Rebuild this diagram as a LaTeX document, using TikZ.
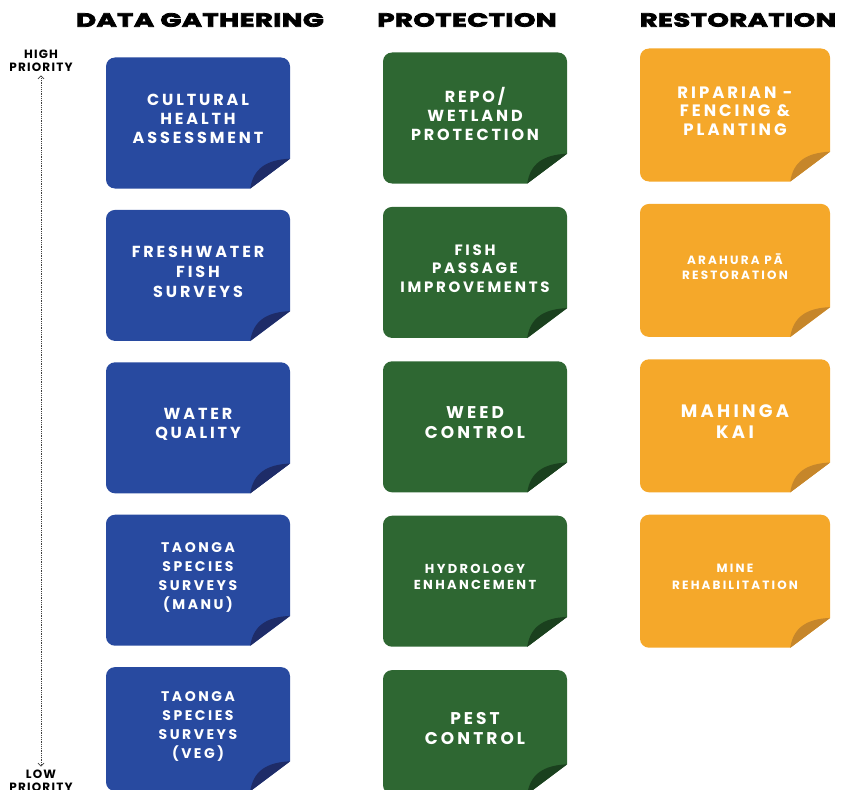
\documentclass[tikz,border=0pt]{standalone}
\usepackage{fontspec}
\setmainfont{Poppins}
\newfontfamily\headfont{Poppins}[BoldFeatures={FakeBold=4,FakeStretch=1.45,LetterSpace=2}]
\usetikzlibrary{positioning,arrows.meta,calc}

\definecolor{dgblue}{RGB}{40,74,160}
\definecolor{dgflap}{RGB}{30,44,104}
\definecolor{prgreen}{RGB}{46,103,50}
\definecolor{prflap}{RGB}{26,64,30}
\definecolor{rsorange}{RGB}{245,168,42}
\definecolor{rsflap}{RGB}{198,134,42}

\tikzset{
  card/.style={rectangle, fill=#1, rounded corners=9pt, minimum width=184pt, minimum height=131pt,
    inner sep=0pt, align=center, text=white, text depth=8pt},
  fs/.style 2 args={font=\bfseries\fontsize{#1}{#2}\selectfont\addfontfeatures{LetterSpace=18}},
  head/.style={font=\headfont\bfseries\fontsize{19}{22}\selectfont},
  prio/.style={align=center, font=\bfseries\fontsize{12}{13}\selectfont\addfontfeatures{LetterSpace=10}}
}

% page curl on the lower right corner of a card
\newcommand{\fold}[2]{%
  \fill[white] ($(#1.south east)+(0,30)$) -- ($(#1.south east)+(-40,0)$) -- ++(0,-2)
    -- ($(#1.south east)+(2,-2)$) -- ($(#1.south east)+(2,30)$) -- cycle;
  \fill[#2] ($(#1.south east)+(0,30)$) -- ($(#1.south east)+(-40,0)$)
    .. controls +(3,20) and +(-24,-1) .. ($(#1.south east)+(0,30)$);
}

\begin{document}
\begin{tikzpicture}[x=1pt, y=1pt]
    \useasboundingbox (0,0) rectangle (845,-789);

    \node (hdg) [head] at (200,-20) {DATA GATHERING};
    \node (hpr) [head] at (467,-20) {PROTECTION};
    \node (hrs) [head] at (738,-20) {RESTORATION};

    % data gathering
    \node (dg1) [card=dgblue, fs={16}{19}] at (198,-123) {CULTURAL\\HEALTH\\ASSESSMENT};
    \node (dg2) [card=dgblue, fs={16}{20}, below=21pt of dg1] {FRESHWATER\\FISH\\SURVEYS};
    \node (dg3) [card=dgblue, fs={16}{19}, below=21pt of dg2] {WATER\\QUALITY};
    \node (dg4) [card=dgblue, fs={14}{19}, below=21pt of dg3] {TAONGA\\SPECIES\\SURVEYS\\(MANU)};
    \node (dg5) [card=dgblue, fs={14}{19}, below=21pt of dg4, minimum height=124pt] {TAONGA\\SPECIES\\SURVEYS\\(VEG)};

    % protection
    \node (pr1) [card=prgreen, fs={16}{19}] at (475,-118) {REPO/\\WETLAND\\PROTECTION};
    \node (pr2) [card=prgreen, fs={15}{18.5}, below=23pt of pr1] {FISH\\PASSAGE\\IMPROVEMENTS};
    \node (pr3) [card=prgreen, fs={17}{20}, below=23pt of pr2] {WEED\\CONTROL};
    \node (pr4) [card=prgreen, fs={13}{16}, below=23pt of pr3] {HYDROLOGY\\ENHANCEMENT};
    \node (pr5) [card=prgreen, fs={17}{20}, below=23pt of pr4, minimum height=124pt] {PEST\\CONTROL};

    % restoration
    \node (rs1) [card=rsorange, fs={16.5}{18.5}, minimum width=190pt, minimum height=133pt] at (735,-115) {RIPARIAN -\\FENCING \&\\PLANTING};
    \node (rs2) [card=rsorange, fs={12}{15}, minimum width=190pt, minimum height=133pt, below=22pt of rs1] {ARAHURA PĀ\\RESTORATION};
    \node (rs3) [card=rsorange, fs={18}{21}, minimum width=190pt, minimum height=133pt, below=22pt of rs2] {MAHINGA\\KAI};
    \node (rs4) [card=rsorange, fs={12}{17}, minimum width=190pt, minimum height=133pt, below=22pt of rs3] {MINE\\REHABILITATION};

    \foreach \n in {dg1,dg2,dg3,dg4,dg5} {\fold{\n}{dgflap}}
    \foreach \n in {pr1,pr2,pr3,pr4,pr5} {\fold{\n}{prflap}}
    \foreach \n in {rs1,rs2,rs3,rs4} {\fold{\n}{rsflap}}

    % priority scale
    \node (hi) [prio] at (41,-61) {HIGH\\PRIORITY};
    \node (lo) [prio] at (41,-781) {LOW\\PRIORITY};
    \draw [densely dotted, black!75, thick, {Straight Barb[length=3pt,width=6pt]}-{Straight Barb[length=3pt,width=6pt]}] (hi) -- (lo);
\end{tikzpicture}
\end{document}
